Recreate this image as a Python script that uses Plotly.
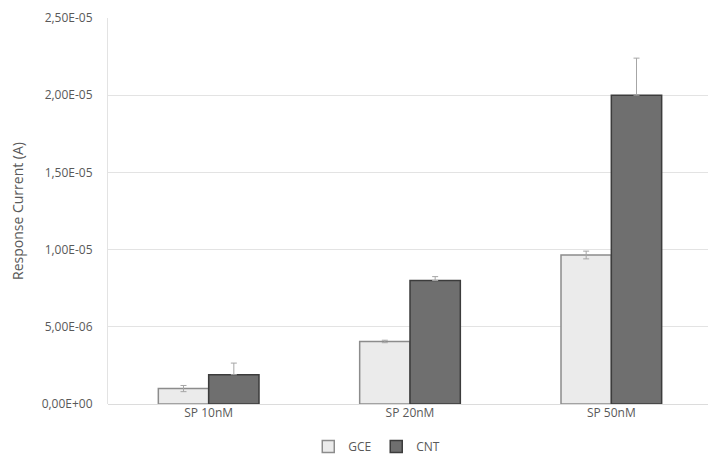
import plotly.graph_objects as go

categories = ["SP 10nM", "SP 20nM", "SP 50nM"]
gce_values = [1.0e-6, 4.05e-6, 9.65e-6]
gce_errors = [0.2e-6, 0.08e-6, 0.25e-6]
cnt_values = [1.9e-6, 8.0e-6, 2.0e-5]
cnt_errors = [0.75e-6, 0.25e-6, 2.4e-6]
no_errors = [0, 0, 0]
tick_vals = [0, 5e-6, 1e-5, 1.5e-5, 2e-5, 2.5e-5]
tick_text = ["0,00E+00", "5,00E-06", "1,00E-05", "1,50E-05", "2,00E-05", "2,50E-05"]

fig = go.Figure()
fig.add_trace(go.Bar(
    name="GCE", x=categories, y=gce_values,
    marker=dict(color="#ebebeb", line=dict(color="#8c8c8c", width=1.5)),
    error_y=dict(type="data", array=gce_errors, symmetric=True,
                 visible=True, color="#a6a6a6", thickness=1, width=3),
))
fig.add_trace(go.Bar(
    name="CNT", x=categories, y=cnt_values,
    marker=dict(color="#6f6f6f", line=dict(color="#3c3c3c", width=1.5)),
    error_y=dict(type="data", array=cnt_errors, arrayminus=no_errors, symmetric=False,
                 visible=True, color="#a6a6a6", thickness=1, width=3),
))

fig.update_layout(
    width=708, height=452,
    margin=dict(l=100, r=4, t=10, b=56),
    paper_bgcolor="white", plot_bgcolor="white",
    barmode="group", bargap=0.5, bargroupgap=0,
    font=dict(family="Open Sans, Liberation Sans, sans-serif", size=12, color="#595959"),
    showlegend=True,
    legend=dict(orientation="h", x=0.445, xanchor="center",
                yref="container", y=0.03, yanchor="middle",
                font=dict(size=12, color="#595959"), itemwidth=30, traceorder="normal"),
    xaxis=dict(showgrid=False, showline=False, ticks="", automargin=False,
               tickfont=dict(size=12, color="#595959")),
    yaxis=dict(
        range=[0, 2.5e-5], tickvals=tick_vals, ticktext=tick_text, automargin=False,
        showgrid=True, gridcolor="#e3e3e3", gridwidth=1,
        showline=True, linecolor="#e3e3e3", linewidth=1,
        zeroline=True, zerolinecolor="#dcdcdc", zerolinewidth=1,
        ticks="", ticklabelstandoff=12, tickfont=dict(size=12, color="#595959"),
        title=dict(text="Response Current (A)", font=dict(size=14, color="#595959"), standoff=19),
    ),
)

fig.write_html("out.html")
